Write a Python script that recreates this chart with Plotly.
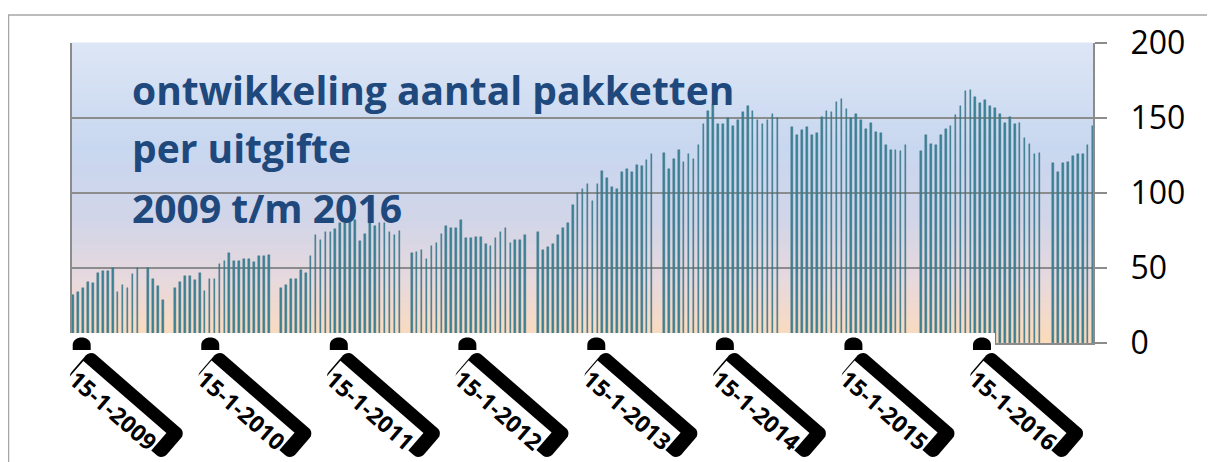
import math
from datetime import datetime, timedelta
import plotly.graph_objects as go

# ---------------- data ----------------
start_dates = ["2008-12-22", "2009-07-22", "2009-10-07", "2010-08-04", "2011-08-10",
               "2012-08-03", "2013-07-26", "2014-07-25", "2015-07-26", "2016-08-04"]
seg1 = [32, 34, 37, 41, 40, 47, 48, 48, 50, 34, 39, 37, 46, 50]
seg2 = [50, 43, 38, 29]
seg3 = [37, 41, 45, 45, 42, 47, 35, 43, 43, 53, 55, 60, 55, 55, 56, 56, 54, 58, 58, 59]
seg4 = [37, 39, 43, 43, 49, 47, 58, 72, 69, 74, 74, 76, 80, 80, 84, 82, 68, 73, 80, 78, 80, 80, 74, 72, 75]
seg5 = [60, 61, 62, 56, 65, 67, 73, 78, 77, 77, 82, 70, 70, 71, 71, 66, 65, 70, 74, 77, 67, 69, 69, 72]
seg6 = [74, 62, 64, 66, 72, 77, 80, 92, 100, 103, 106, 95, 106, 115, 110, 104, 103, 114, 116, 114, 119, 118, 122, 126]
seg7 = [127, 116, 123, 129, 121, 126, 123, 132, 146, 155, 159, 146, 146, 150, 145, 149, 154, 158, 155, 149, 146, 149, 153, 150]
seg8 = [144, 139, 142, 144, 139, 140, 151, 155, 154, 161, 163, 156, 150, 153, 149, 143, 147, 141, 140, 132, 129, 129, 128, 132]
seg9 = [128, 139, 133, 132, 139, 143, 145, 152, 158, 168, 169, 164, 160, 162, 158, 157, 153, 147, 151, 146, 147, 137, 133, 126, 127]
seg10 = [120, 114, 120, 121, 125, 126, 126, 132, 145]
segments = [seg1, seg2, seg3, seg4, seg5, seg6, seg7, seg8, seg9, seg10]

tick_dates = ["2009-01-15", "2010-01-15", "2011-01-15", "2012-01-15",
              "2013-01-15", "2014-01-15", "2015-01-15", "2016-01-15"]
tick_labels = ["15-1-2009", "15-1-2010", "15-1-2011", "15-1-2012",
               "15-1-2013", "15-1-2014", "15-1-2015", "15-1-2016"]
y_ticks = [0, 50, 100, 150, 200]
title_lines = ["ontwikkeling aantal pakketten", "per uitgifte", "2009 t/m 2016"]

# --------------- build series ---------------
xs, ys = [], []
for sd, vals in zip(start_dates, segments):
    d0 = datetime.strptime(sd, "%Y-%m-%d")
    for i, v in enumerate(vals):
        xs.append((d0 + timedelta(days=14 * i)).strftime("%Y-%m-%d"))
        ys.append(v)

x_range = ["2008-12-18 11:00", "2016-11-25 05:00"]
r0 = datetime.strptime(x_range[0], "%Y-%m-%d %H:%M")
r1 = datetime.strptime(x_range[1], "%Y-%m-%d %H:%M")


def to_paper(ds):
    d = datetime.strptime(ds, "%Y-%m-%d")
    return (d - r0).total_seconds() / (r1 - r0).total_seconds()


# page body has an 8px margin -> figure is laid out 8px smaller
PW, PH = 1021, 300          # plot area size in px
OFF = 8

fig = go.Figure()
fig.add_trace(go.Bar(
    x=xs, y=ys, width=4.6 * 86400000,
    marker=dict(color="#3E8599", line=dict(width=0.4, color="#2A6677")),
    hoverinfo="x+y", showlegend=False,
))

shapes = []
# gradient background (stripes)
stops = [(0.0, (221, 230, 245)), (0.35, (200, 215, 240)), (0.6, (210, 213, 232)),
         (0.8, (232, 217, 220)), (1.0, (252, 218, 186))]


def grad(t):
    for (a, ca), (b, cb) in zip(stops[:-1], stops[1:]):
        if a <= t <= b:
            f = (t - a) / (b - a)
            return tuple(int(round(ca[k] + (cb[k] - ca[k]) * f)) for k in range(3))
    return stops[-1][1]


n = 100
for i in range(n):
    t = (i + 0.5) / n
    c = grad(t)
    shapes.append(dict(type="rect", xref="paper", yref="paper", x0=0, x1=1,
                       y0=1 - (i + 1) / n, y1=1 - i / n + 0.002, layer="below",
                       line=dict(width=0), fillcolor="rgb(%d,%d,%d)" % c))

# outer chart frame
shapes.append(dict(type="rect", xref="paper", yref="paper",
                   x0=(8.5 - 72) / PW, x1=1.3, y0=-0.8, y1=(343 - 15) / PH,
                   line=dict(color="#A6A6A6", width=1.5), fillcolor="rgba(0,0,0,0)", layer="below"))

# white band at the bottom of the plot (as in the source image)
shapes.append(dict(type="rect", xref="paper", yref="paper", x0=-0.01, x1=(995 - 72) / PW,
                   y0=-0.012, y1=(343 - 333) / PH, line=dict(width=0), fillcolor="white", layer="above"))

ang = math.radians(41)
u = (math.cos(ang), -math.sin(ang))
v = (math.sin(ang), math.cos(ang))


def rrect(cx, cy, L, W, r, steps=5):
    pts = []
    corners = [(L - r, W - r, 0), (L - r, -W + r, -90), (-L + r, -W + r, -180), (-L + r, W - r, -270)]
    for (a0, b0, start) in corners:
        for k in range(steps + 1):
            th = math.radians(start + 90 - k * 90 / steps)
            a = a0 + r * math.cos(th)
            b = b0 + r * math.sin(th)
            pts.append((cx + a * u[0] + b * v[0], cy + a * u[1] + b * v[1]))
    return "M " + " L ".join("%.2f,%.2f" % p for p in pts) + " Z"


annotations = []
for td, lab in zip(tick_dates, tick_labels):
    px = to_paper(td)
    shapes.append(dict(type="path", xref="paper", yref="paper", xsizemode="pixel", ysizemode="pixel",
                       xanchor=px, yanchor=0, layer="above",
                       path="M -9,-7 L -9,-2 C -9,8 9,8 9,-2 L 9,-7 Z",
                       fillcolor="black", line=dict(width=0)))
    shapes.append(dict(type="path", xref="paper", yref="paper", xsizemode="pixel", ysizemode="pixel",
                       xanchor=px, yanchor=0, layer="above",
                       path=rrect(44.6, -62, 63, 18, 7),
                       fillcolor="black", line=dict(width=0)))
    annotations.append(dict(xref="paper", yref="paper", x=px, y=0, xshift=31.5, yshift=-67,
                            xanchor="center", yanchor="middle", showarrow=False, textangle=41,
                            text="<b>%s</b>" % lab, bgcolor="white", borderpad=1,
                            font=dict(family="Open Sans", size=23, color="black")))

# title lines
for line, py in zip(title_lines, [103.3, 161.7, 221.7]):
    annotations.append(dict(xref="paper", yref="paper", x=(130 - 72) / PW, y=(343 - (py - 14)) / PH,
                            xanchor="left", yanchor="middle", showarrow=False,
                            text="<b>%s</b>" % line,
                            font=dict(family="Open Sans", size=39, color="#1F497D")))

fig.update_layout(
    width=1215 - OFF, height=462 - OFF, autosize=False,
    margin=dict(l=72 - OFF, r=1215 - 1093, t=43 - OFF, b=462 - 343, pad=0),
    paper_bgcolor="white", plot_bgcolor="rgba(0,0,0,0)",
    bargap=0, shapes=shapes, annotations=annotations,
    font=dict(family="Open Sans"),
    xaxis=dict(type="date", range=x_range, showgrid=False, showticklabels=False,
               ticks="", showline=True, linecolor="#8C8C8C", linewidth=2, zeroline=False,
               fixedrange=True),
    yaxis=dict(range=[0, 200], tickvals=y_ticks, side="right", showgrid=True,
               gridcolor="#8C8C8C", gridwidth=2, showline=True, linecolor="#8C8C8C",
               linewidth=2, mirror=True, ticks="outside", ticklen=12, tickwidth=2,
               tickcolor="#8C8C8C", ticklabelstandoff=17, zeroline=False,
               tickfont=dict(family="Open Sans", size=32, color="black"), fixedrange=True),
)

fig.write_html("out.html")
